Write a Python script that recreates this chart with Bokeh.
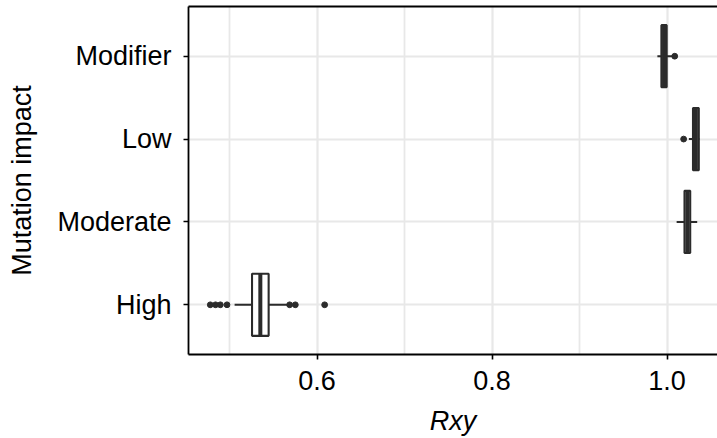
from bokeh.plotting import figure
from bokeh.models import FactorRange, Range1d, FixedTicker, LinearAxis
from bokeh.embed import file_html
from bokeh.resources import INLINE

# Mutation impact categories, bottom to top
impacts = ["High", "Moderate", "Low", "Modifier"]

# Box statistics of Rxy per category
q1 = [0.5257, 1.0200, 1.0297, 0.9936]
median = [0.5352, 1.0232, 1.0330, 0.9966]
q3 = [0.5447, 1.0265, 1.0363, 0.9996]
whisker_low = [0.5058, 1.0110, 1.0250, 0.9890]
whisker_high = [0.5675, 1.0345, 1.0370, 1.0060]

# Outlying points
outlier_impact = ["High", "High", "High", "High", "High", "High", "High", "Low", "Modifier"]
outlier_rxy = [0.4780, 0.4840, 0.4895, 0.4971, 0.5687, 0.5752, 0.6087, 1.0190, 1.0088]

# Axis ticks
x_ticks = [0.6, 0.8, 1.0]
x_tick_labels = ["0.6", "0.8", "1.0"]
x_minor = [0.5, 0.7, 0.9, 1.1]

FONT = "Liberation Sans"
DARK = "#2b2b2b"
GRID = "#e8e8e8"
FS = "27px"

p = figure(
    width=717, height=438,
    y_range=FactorRange(factors=impacts, range_padding=0.05),
    x_range=Range1d(0.4531, 1.0577),
    output_backend="svg", toolbar_location=None,
    min_border_left=188, min_border_bottom=84, min_border_top=6, min_border_right=0,
)
p.outline_line_color = None
p.background_fill_color = "white"
p.border_fill_color = "white"

# grid
p.xaxis.ticker = FixedTicker(ticks=x_ticks, minor_ticks=x_minor)
p.xgrid.grid_line_color = GRID
p.xgrid.grid_line_width = 2.2
p.xgrid.minor_grid_line_color = GRID
p.xgrid.minor_grid_line_width = 1.8
p.ygrid.grid_line_color = GRID
p.ygrid.grid_line_width = 2.2

# whiskers
p.segment(x0=whisker_low, y0=impacts, x1=q1, y1=impacts, line_color=DARK, line_width=2.0)
p.segment(x0=q3, y0=impacts, x1=whisker_high, y1=impacts, line_color=DARK, line_width=2.0)
# boxes
p.hbar(y=impacts, left=q1, right=q3, height=0.75,
       fill_color="white", line_color=DARK, line_width=2.1)
# medians
p.rect(x=median, y=impacts, width=4.0, width_units="screen", height=0.75,
       fill_color=DARK, line_color=None)
# outliers
p.scatter(x=outlier_rxy, y=outlier_impact, size=5.8, fill_color=DARK, line_color=DARK)

# axes
for ax in (p.xaxis[0], p.yaxis[0]):
    ax.axis_line_color = "black"
    ax.axis_line_width = 1.8
    ax.major_tick_line_color = "black"
    ax.major_tick_line_width = 1.6
    ax.major_tick_in = 0
    ax.major_tick_out = 5
    ax.minor_tick_line_color = None
    ax.major_label_text_font = FONT
    ax.major_label_text_font_size = FS
    ax.major_label_text_color = "black"
    ax.axis_label_text_font = FONT
    ax.axis_label_text_font_size = FS
    ax.axis_label_text_color = "black"

p.xaxis.major_label_overrides = dict(zip(x_ticks, x_tick_labels))
p.xaxis.axis_label = "Rxy"
p.xaxis.axis_label_text_font_style = "italic"
p.xaxis.major_label_standoff = 11
p.xaxis.axis_label_standoff = 13

p.yaxis.axis_label = "Mutation impact"
p.yaxis.axis_label_text_font_style = "normal"
p.yaxis.major_label_standoff = 12
p.yaxis.axis_label_standoff = 17

# top border of the panel
top = LinearAxis(ticker=FixedTicker(ticks=[]), axis_line_color="black", axis_line_width=1.8,
                 major_tick_line_color=None, minor_tick_line_color=None,
                 major_label_text_font_size="0px", major_label_standoff=0)
p.add_layout(top, "above")

open("out.html", "w").write(file_html(p, INLINE))
